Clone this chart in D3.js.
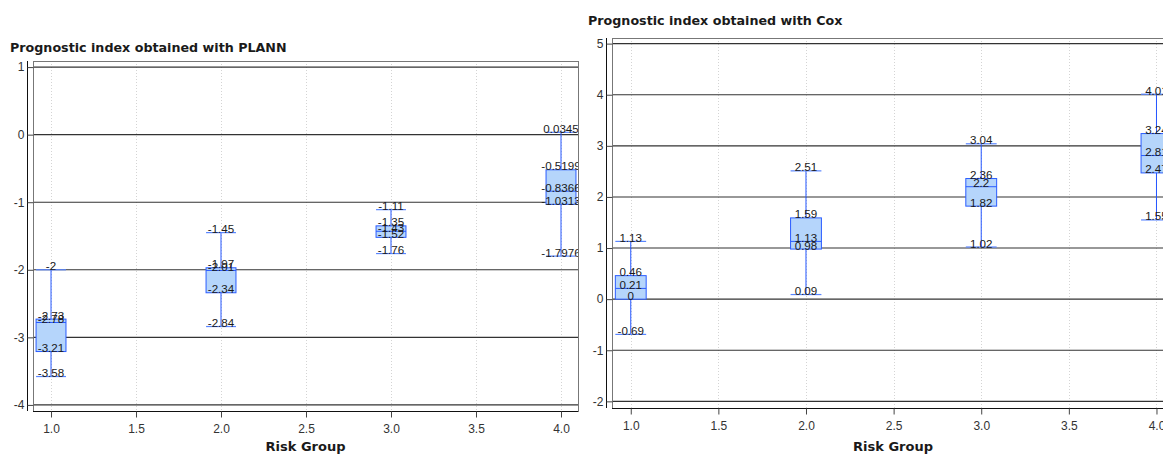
<!DOCTYPE html>
<html lang="en">
<head>
  <meta charset="UTF-8">
  <title>Prognostic index by risk group</title>
  <style>
    body { margin: 0; background: #fff; }
    svg { display: block; font-family: "Liberation Sans", Arial, sans-serif; }
  </style>
</head>
<body>
  <svg id="svg" width="1163" height="454"></svg>
  <script src="https://d3js.org/d3.v7.min.js"></script>
  <script>
    // risk groups on the x axis
    const groups = [1, 2, 3, 4]
    const xTicks = [1.0, 1.5, 2.0, 2.5, 3.0, 3.5, 4.0]

    // PLANN box stats per group
    const plannMax = [-2, -1.45, -1.11, 0.0345]
    const plannQ3 = [-2.73, -1.97, -1.35, -0.5199]
    const plannMed = [-2.78, -2.01, -1.43, -0.8366]
    const plannQ1 = [-3.21, -2.34, -1.52, -1.0313]
    const plannMin = [-3.58, -2.84, -1.76, -1.7976]
    const plannTicks = [1, 0, -1, -2, -3, -4]

    // Cox box stats per group
    const coxMax = [1.13, 2.51, 3.04, 4.01]
    const coxQ3 = [0.46, 1.59, 2.36, 3.24]
    const coxMed = [0.21, 1.13, 2.2, 2.81]
    const coxQ1 = [0, 0.98, 1.82, 2.47]
    const coxMin = [-0.69, 0.09, 1.02, 1.55]
    const coxTicks = [5, 4, 3, 2, 1, 0, -1, -2]

    const svg = d3.select('#svg')

    function drawPanel(opts) {
      const { id, title, titleX, titleY, left, right, top, bottom, xDomain, yDomain, yTicks } = opts
      const xscale = d3.scaleLinear().domain(xDomain).range([left, right])
      const yscale = d3.scaleLinear().domain(yDomain).range([bottom, top])

      const rows = groups.map((g, i) => ({
        g: g,
        max: opts.max[i], q3: opts.q3[i], med: opts.med[i], q1: opts.q1[i], min: opts.min[i]
      }))

      const panel = svg.append('g')

      panel.append('clipPath').attr('id', 'clip-' + id)
        .append('rect')
        .attr('x', left).attr('y', top)
        .attr('width', right - left).attr('height', bottom - top)

      // vertical dotted grid
      panel.append('g')
        .selectAll('line')
        .data(xTicks)
        .enter()
        .append('line')
        .attr('x1', d => Math.round(xscale(d)) + 0.5)
        .attr('x2', d => Math.round(xscale(d)) + 0.5)
        .attr('y1', top).attr('y2', bottom)
        .attr('stroke', '#d4d4d4')
        .attr('stroke-dasharray', '1,2')

      // horizontal grid lines
      panel.append('g')
        .selectAll('line')
        .data(yTicks)
        .enter()
        .append('line')
        .attr('x1', left).attr('x2', right)
        .attr('y1', d => yscale(d)).attr('y2', d => yscale(d))
        .attr('stroke', '#333')
        .attr('stroke-width', 1.1)

      const plot = panel.append('g').attr('clip-path', `url(#clip-${id})`)
      const half = 0.088

      // whiskers
      plot.selectAll('.whisker')
        .data(rows)
        .enter()
        .append('line')
        .attr('class', 'whisker')
        .attr('x1', d => xscale(d.g)).attr('x2', d => xscale(d.g))
        .attr('y1', d => yscale(d.max)).attr('y2', d => yscale(d.min))
        .attr('stroke', '#2255ff')

      // caps at min and max
      const caps = rows.flatMap(d => [{ g: d.g, v: d.max }, { g: d.g, v: d.min }])
      plot.selectAll('.cap')
        .data(caps)
        .enter()
        .append('line')
        .attr('class', 'cap')
        .attr('x1', d => xscale(d.g - half)).attr('x2', d => xscale(d.g + half))
        .attr('y1', d => yscale(d.v)).attr('y2', d => yscale(d.v))
        .attr('stroke', '#5a86ff')
        .attr('stroke-width', 1.2)

      // boxes
      plot.selectAll('.box')
        .data(rows)
        .enter()
        .append('rect')
        .attr('class', 'box')
        .attr('x', d => xscale(d.g - half))
        .attr('width', d => xscale(d.g + half) - xscale(d.g - half))
        .attr('y', d => yscale(d.q3))
        .attr('height', d => yscale(d.q1) - yscale(d.q3))
        .attr('fill', '#b5d5fb')
        .attr('stroke', '#2a5cff')

      plot.selectAll('.median')
        .data(rows)
        .enter()
        .append('line')
        .attr('class', 'median')
        .attr('x1', d => xscale(d.g - half)).attr('x2', d => xscale(d.g + half))
        .attr('y1', d => yscale(d.med)).attr('y2', d => yscale(d.med))
        .attr('stroke', '#2a5cff')

      // value labels
      const labels = rows.flatMap(d => ['max', 'q3', 'med', 'q1', 'min'].map(k => ({ g: d.g, v: d[k] })))
      plot.selectAll('.vlabel')
        .data(labels)
        .enter()
        .append('text')
        .attr('class', 'vlabel')
        .attr('x', d => xscale(d.g))
        .attr('y', d => yscale(d.v) + 0.5)
        .attr('text-anchor', 'middle')
        .attr('font-size', 11.6)
        .attr('fill', '#1a1a1a')
        .text(d => String(d.v))

      // frame
      panel.append('rect')
        .attr('x', left + 0.5).attr('y', top + 0.5)
        .attr('width', right - left).attr('height', bottom - top)
        .attr('fill', 'none')
        .attr('stroke', '#777')

      // axes
      const leftAxis = d3.axisLeft(yscale)
        .tickValues(yTicks)
        .tickSize(6)
        .tickFormat(d => String(d))
      const axL = panel.append('g')
        .attr('transform', `translate(${left + 0.5}, 0)`)
        .call(leftAxis)

      const bottomAxis = d3.axisBottom(xscale)
        .tickValues(xTicks)
        .tickSize(6)
        .tickFormat(d3.format('.1f'))
      const axB = panel.append('g')
        .attr('transform', `translate(0, ${bottom + 0.5})`)
        .call(bottomAxis)

      for (const ax of [axL, axB]) {
        ax.select('.domain').attr('stroke', '#111')
        ax.selectAll('.tick line').attr('stroke', '#444')
        ax.selectAll('.tick text')
          .attr('font-size', 12)
          .attr('font-family', '"Liberation Sans", Arial, sans-serif')
          .attr('fill', '#333')
      }
      axB.selectAll('.tick text').attr('dy', '1.05em')
      axL.select('.domain').attr('d', `M-6,${bottom}V${top}`)
      axB.select('.domain').attr('d', `M${left},0H${right}`)

      panel.append('text')
        .attr('x', titleX)
        .attr('y', titleY)
        .attr('font-family', '"DejaVu Sans", sans-serif')
        .attr('font-size', 12.7)
        .attr('font-weight', 'bold')
        .attr('fill', '#1a1a1a')
        .text(title)

      panel.append('text')
        .attr('x', (left + right) / 2)
        .attr('y', 451)
        .attr('text-anchor', 'middle')
        .attr('font-family', '"DejaVu Sans", sans-serif')
        .attr('font-size', 13)
        .attr('font-weight', 'bold')
        .attr('fill', '#1a1a1a')
        .text('Risk Group')
    }

    drawPanel({
      id: 'plann', title: 'Prognostic index obtained with PLANN', titleX: 10, titleY: 52,
      left: 33, right: 578, top: 61, bottom: 411,
      xDomain: [0.894, 4.1], yDomain: [-4.09, 1.09], yTicks: plannTicks,
      max: plannMax, q3: plannQ3, med: plannMed, q1: plannQ1, min: plannMin
    })

    drawPanel({
      id: 'cox', title: 'Prognostic index obtained with Cox', titleX: 588, titleY: 25,
      left: 612, right: 1174, top: 38, bottom: 408,
      xDomain: [0.893, 4.1], yDomain: [-2.13, 5.11], yTicks: coxTicks,
      max: coxMax, q3: coxQ3, med: coxMed, q1: coxQ1, min: coxMin
    })
  </script>
</body>
</html>
